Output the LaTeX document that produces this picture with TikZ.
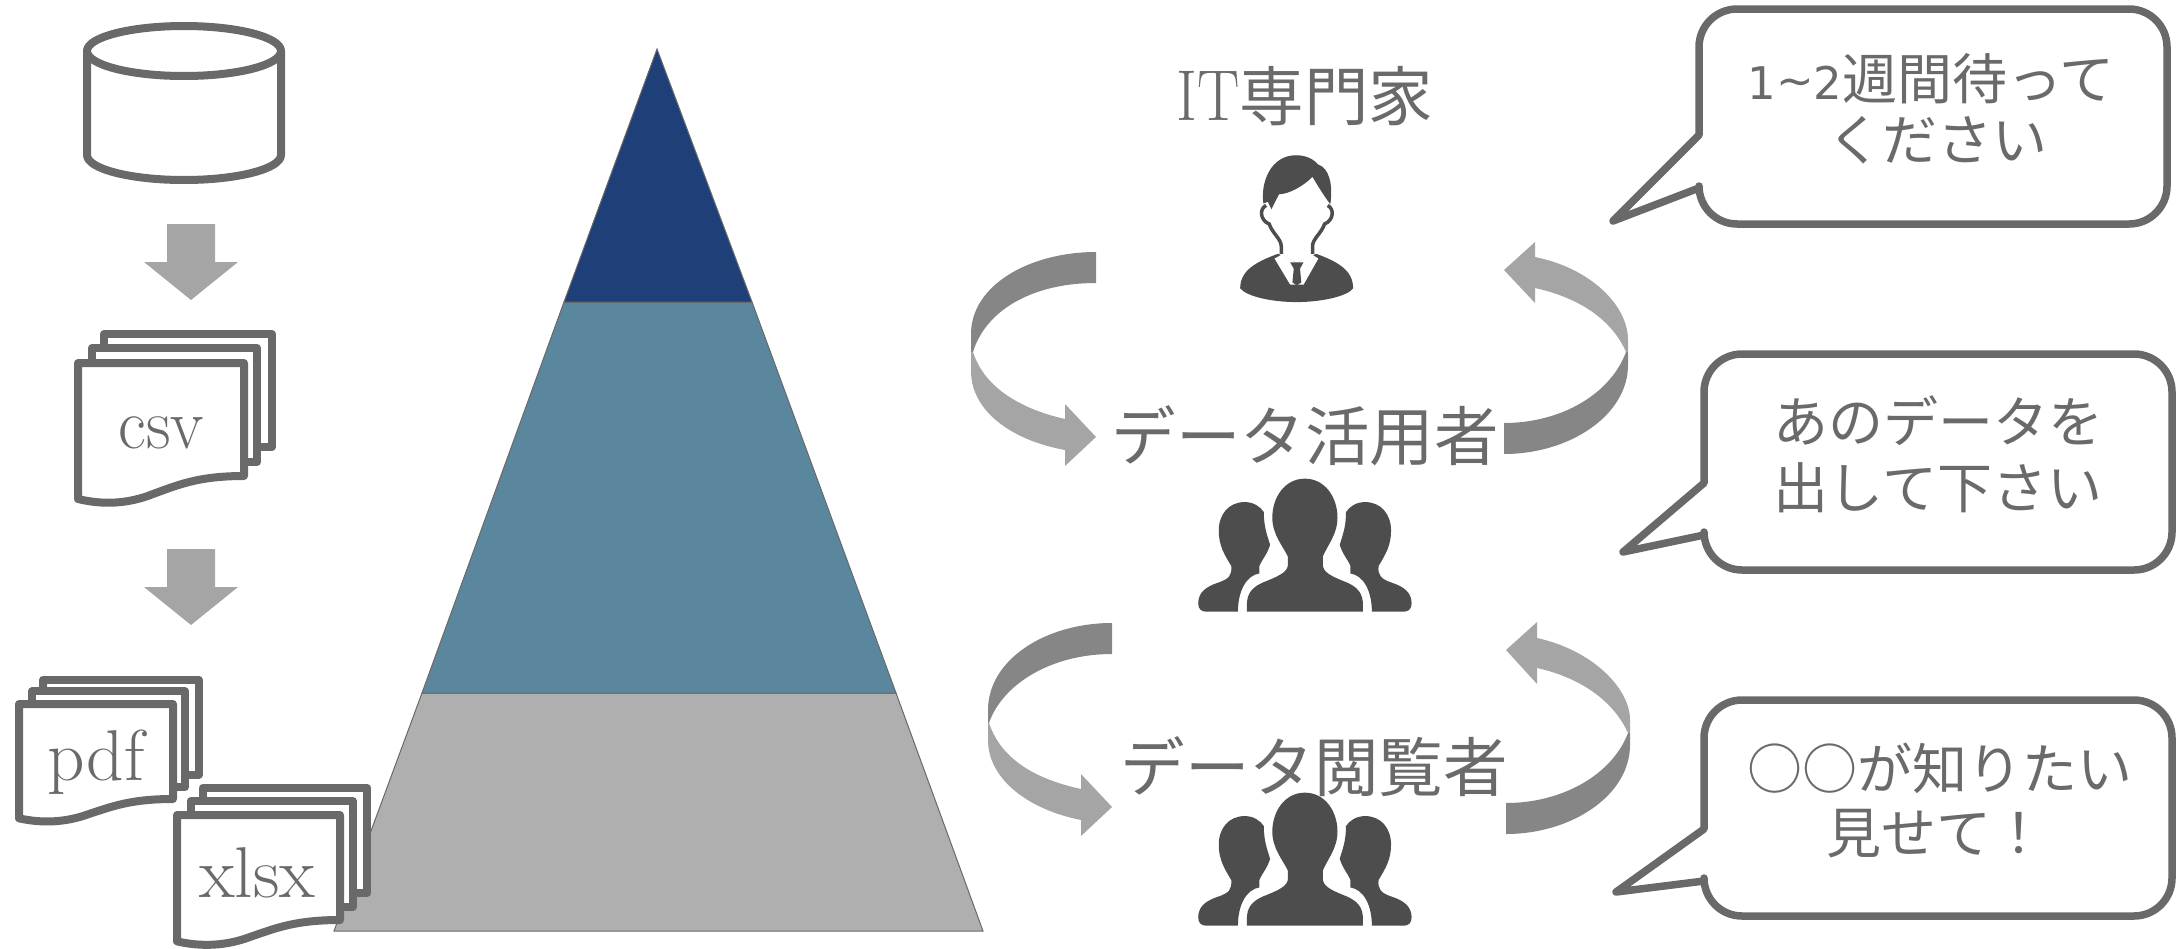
\documentclass[tikz,border=0pt]{standalone}
\usepackage{fontspec}
\newfontfamily\jp{Noto Sans CJK JP}
\newfontfamily\dv{DejaVu Sans}
\definecolor{ln}{HTML}{696969}
\definecolor{txt}{HTML}{6A6A6A}
\definecolor{lt}{HTML}{A5A5A5}
\definecolor{dk}{HTML}{868686}
\definecolor{icon}{HTML}{4D4D4D}
\definecolor{pa}{HTML}{1F3F78}
\definecolor{pb}{HTML}{5A879D}
\definecolor{pc}{HTML}{AFAFAF}
\tikzset{
  thick line/.style={draw=ln,line width=8pt,line join=round,line cap=round,fill=white},
  bubble/.style={draw=ln,line width=7.5pt,line join=round,fill=white},
  tier/.style={draw=ln,line width=1pt},
  blockarrow/.style={fill=lt},
  ribbonlt/.style={fill=lt},
  ribbondk/.style={fill=dk},
  iconfill/.style={fill=icon},
  bigjp/.style={font=\jp\fontsize{64.5}{70}\selectfont,text=txt,inner sep=0pt},
  saying/.style={font=\jp\fontsize{55}{60}\selectfont,text=txt,inner sep=0pt},
  doclabel/.style={text=txt,inner sep=0pt,anchor=base,font=\fontsize{72}{72}\selectfont},
}
\newcommand{\docstack}[4]{%
  \begin{scope}[shift={(#1,#2)},xscale=#3/166,yscale=#4/113]
    \draw[thick line] (26,-15) -- (26,-29) -- (194,-29) -- (194,84) -- (179,84);
    \draw[thick line] (14,0) -- (14,-15) -- (179,-15) -- (179,99) -- (166,99);
    \draw[thick line] (0,0) -- (166,0) -- (166,113) .. controls (120,113) and (100,122) .. (75,131) .. controls (50,141) and (25,142) .. (0,136) -- cycle;
  \end{scope}}
\newcommand{\sidefig}{%
  (660,1243) .. controls (680,1243) and (695,1255) .. (703,1270) .. controls (703,1310) and (710,1330) .. (717,1358) .. controls (710,1385) and (700,1395) .. (693,1415) -- (693,1435) .. controls (665,1440) and (645,1480) .. (645,1538) -- (575,1538) .. controls (562,1538) and (556,1530) .. (556,1515) .. controls (556,1485) and (575,1470) .. (600,1460) .. controls (625,1450) and (632,1440) .. (630,1415) .. controls (615,1385) and (602,1360) .. (602,1320) .. controls (602,1275) and (625,1243) .. (660,1243) -- cycle}
\newcommand{\groupicon}[1]{%
  \begin{scope}[yshift=-#1pt,shift={(950,40)},xscale=1/2.24,yscale=1/2.69]
    \fill[iconfill] (795,1180) .. controls (840,1180) and (868,1230) .. (868,1285) .. controls (868,1330) and (845,1360) .. (835,1390) -- (835,1410) .. controls (835,1430) and (850,1440) .. (880,1455) .. controls (915,1470) and (925,1490) .. (925,1520) -- (925,1538) -- (665,1538) -- (665,1520) .. controls (665,1490) and (675,1470) .. (710,1455) .. controls (740,1440) and (757,1430) .. (757,1410) -- (757,1390) .. controls (745,1360) and (722,1330) .. (722,1285) .. controls (722,1230) and (750,1180) .. (795,1180) -- cycle;
    \fill[iconfill] \sidefig;
    \begin{scope}[shift={(1590,0)},xscale=-1]
      \fill[iconfill] \sidefig;
    \end{scope}
  \end{scope}}
\begin{document}
\begin{tikzpicture}[x=1pt,y=-1pt]
\useasboundingbox (0,0) rectangle (2183,948);
% pyramid
\fill[pc,tier] (422,693) -- (896,693) -- (983,931) -- (334,931) -- cycle;
\fill[pb,tier] (564,302) -- (752,302) -- (896,693) -- (422,693) -- cycle;
\fill[pa,tier] (657,49) -- (752,302) -- (564,302) -- cycle;
% cylinder
\draw[thick line] (87,51) -- (87,155) arc[start angle=180,end angle=0,x radius=97,y radius=25] -- (281,51);
\draw[thick line] (184,51) ellipse[x radius=97,y radius=25];
% block arrows
\fill[blockarrow] (167,224) -- (215,224) -- (215,262) -- (238,262) -- (191,300) -- (144,262) -- (167,262) -- cycle;
\fill[blockarrow] (167,549) -- (215,549) -- (215,587) -- (238,587) -- (191,625) -- (144,587) -- (167,587) -- cycle;
% documents
\docstack{78}{363}{166}{113}
\docstack{19}{704}{154}{95}
\docstack{177}{815}{163}{105}
\node[doclabel] (csv) at (161,448) {\scalebox{.95}[1]{csv}};
\node[doclabel] (pdf) at (96,780) {\scalebox{1.02}[1]{pdf}};
\node[doclabel] (xlsx) at (257,897) {\scalebox{1.02}[1]{xlsx}};
% cycle arrows, upper
\fill[ribbondk] (1096,252) .. controls (1030,252) and (971,285) .. (971,334) -- (971,352) -- (973,352) .. controls (985,312) and (1030,283) .. (1096,283) -- cycle;
\fill[ribbonlt] (971,352) -- (971,371) .. controls (971,410) and (1010,440) .. (1065,450) -- (1065,466) -- (1096,437) -- (1065,404) -- (1065,419) .. controls (1025,410) and (985,390) .. (973,352) -- cycle;
\fill[ribbonlt] (1504,270) -- (1535,242) -- (1535,257) .. controls (1590,268) and (1628,305) .. (1628,340) -- (1628,352) -- (1626,352) .. controls (1612,320) and (1580,298) .. (1535,288) -- (1535,303) -- cycle;
\fill[ribbondk] (1628,352) -- (1628,365) .. controls (1628,415) and (1570,454) .. (1504,454) -- (1504,423) .. controls (1560,423) and (1610,395) .. (1626,352) -- cycle;
% cycle arrows, lower
\fill[ribbondk] (1112,623) .. controls (1045,623) and (988,660) .. (988,710) -- (988,723) -- (989,723) .. controls (1002,685) and (1050,654) .. (1112,654) -- cycle;
\fill[ribbonlt] (988,723) -- (988,740) .. controls (988,780) and (1030,810) .. (1081,820) -- (1081,836) -- (1112,807) -- (1081,774) -- (1081,789) .. controls (1040,780) and (1002,762) .. (989,723) -- cycle;
\fill[ribbonlt] (1506,650) -- (1537,622) -- (1537,638) .. controls (1592,650) and (1630,688) .. (1630,720) -- (1630,733) -- (1628,733) .. controls (1614,702) and (1582,678) .. (1537,668) -- (1537,684) -- cycle;
\fill[ribbondk] (1630,733) -- (1630,745) .. controls (1630,795) and (1572,834) .. (1506,834) -- (1506,803) .. controls (1562,803) and (1612,775) .. (1628,733) -- cycle;
% labels
\node[bigjp] (it) at (1305,96) {\scalebox{.88}[1]{\rmfamily\fontsize{72}{72}\selectfont IT}\jp 専門家};
\node[bigjp] (user) at (1305,436) {データ活用者};
\node[bigjp] (viewer) at (1314,767) {データ閲覧者};
% person icon
\begin{scope}[shift={(950,40)},xscale=1/2.24,yscale=1/2.69]
  \fill[iconfill] (650,668) .. controls (650,620) and (685,597) .. (735,575) -- (777,600) -- (820,575) .. controls (870,597) and (903,620) .. (903,668) .. controls (890,690) and (830,705) .. (777,705) .. controls (720,705) and (665,690) .. (650,668) -- cycle;
  \fill[white] (727,588) -- (742,578) -- (777,600) -- (812,578) -- (825,588) -- (792,658) -- (762,658) -- cycle;
  \fill[iconfill] (762,598) -- (792,598) -- (784,615) -- (787,652) -- (777,660) -- (767,652) -- (770,615) -- cycle;
  \draw[icon,line width=3.5pt] (708,445) .. controls (692,455) and (695,485) .. (715,495) .. controls (722,520) and (742,535) .. (742,555) -- (742,575);
  \draw[icon,line width=3.5pt] (846,445) .. controls (862,455) and (859,485) .. (839,495) .. controls (832,520) and (812,535) .. (812,555) -- (812,575);
  \fill[iconfill] (702,440) .. controls (695,380) and (720,310) .. (775,310) .. controls (800,310) and (815,322) .. (825,335) .. controls (850,345) and (858,390) .. (852,442) .. controls (838,420) and (820,385) .. (812,368) .. controls (790,395) and (757,415) .. (737,415) -- (720,455) -- (712,435) -- cycle;
\end{scope}
\groupicon{0}
\groupicon{314}
% speech bubbles
\draw[bubble] (1699,135) [sharp corners] -- (1613,221) -- (1699,188) [rounded corners=38pt] -- (1699,224) -- (2167,224) -- (2167,9) -- (1699,9) -- (1699,135) [sharp corners] -- cycle;
\draw[bubble] (1704,483) [sharp corners] -- (1623,552) -- (1704,535) [rounded corners=38pt] -- (1704,570) -- (2172,570) -- (2172,354) -- (1704,354) -- (1704,483) [sharp corners] -- cycle;
\draw[bubble] (1704,829) [sharp corners] -- (1616,892) -- (1704,881) [rounded corners=38pt] -- (1704,916) -- (2172,916) -- (2172,700) -- (1704,700) -- (1704,829) [sharp corners] -- cycle;
\node[saying] (s1a) at (1931,79) {{\dv\fontsize{45}{50}\selectfont 1\raisebox{3pt}{\char`\~}2}週間待って};
\node[saying] (s1b) at (1937,140) {ください};
\node[saying] (s2a) at (1938,421) {あのデータを};
\node[saying] (s2b) at (1938,488) {出して下さい};
\node[saying] (s3a) at (1940,768) {○○が知りたい};
\node[saying] (s3b) at (1936,834) {見せて！};
\end{tikzpicture}
\end{document}
